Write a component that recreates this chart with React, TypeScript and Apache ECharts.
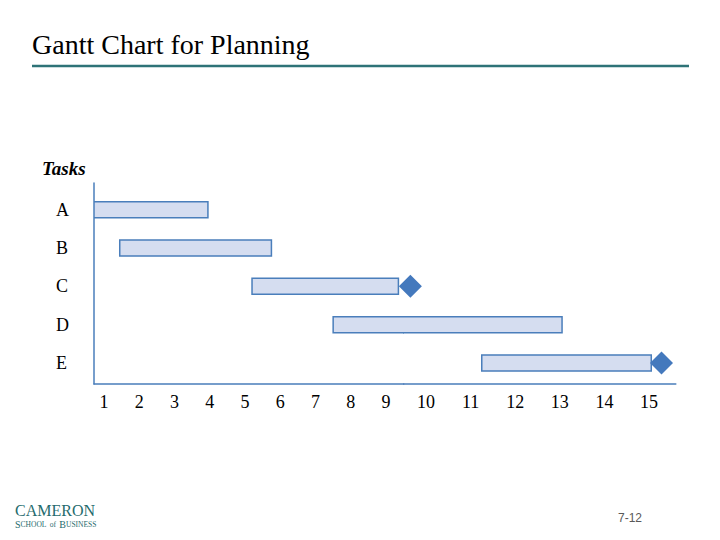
import React, { useEffect, useRef } from "react";
import * as echarts from "echarts";

const tasks = ["A", "B", "C", "D", "E"];
const taskStart = [0.72, 1.45, 5.2, 7.5, 11.25];
const taskEnd = [3.95, 5.75, 9.35, 13.05, 15.05];
const milestoneTask = [2, 4];
const milestoneTime = [9.65, 15.28];
// the original slide spaces weeks 1-9 tighter than weeks 10-15
const ticksLeft = [1, 2, 3, 4, 5, 6, 7, 8, 9];
const ticksRight = [10, 11, 12, 13, 14, 15];
const xMin = 0.72;
const xSplit = 9.5;
const xMax = 15.6;

const BLUE = "#4a7ebb";
const FILL = "#d5ddf0";
const TEAL = "#2e7377";
const SERIF = "Liberation Serif";

export default function App() {
  const ref = useRef<HTMLDivElement>(null);
  useEffect(() => {
    if (!ref.current) return;
    const chart = echarts.init(ref.current, null, { renderer: "svg" });
    const barData = tasks.map((_, i) => [taskStart[i], taskEnd[i], i]);
    const msData = milestoneTask.map((t, i) => [milestoneTime[i], t]);

    const renderBar = (_params: any, api: any) => {
      const s = api.coord([api.value(0), api.value(2)]);
      const e = api.coord([api.value(1), api.value(2)]);
      const h = 16;
      return {
        type: "rect",
        shape: { x: s[0], y: s[1] - h / 2, width: e[0] - s[0], height: h },
        style: { fill: FILL, stroke: BLUE, lineWidth: 1.5 },
      };
    };

    const xAxisBase = (min: number, max: number, ticks: number[]) => ({
      type: "value",
      min,
      max,
      axisLine: { show: true, onZero: false, lineStyle: { color: BLUE, width: 1.5 } },
      axisTick: { show: false },
      splitLine: { show: false },
      axisLabel: {
        customValues: ticks,
        margin: 9,
        color: "#000",
        fontFamily: SERIF,
        fontSize: 18,
        formatter: (v: number) => String(Math.round(v)),
      },
    });

    const yAxisBase = (show: boolean) => ({
      type: "value",
      inverse: true,
      min: -0.7,
      max: 4.55,
      show,
      axisLine: { show: true, onZero: false, lineStyle: { color: BLUE, width: 1.5 } },
      axisTick: { show: false },
      splitLine: { show: false },
      axisLabel: {
        customValues: [0, 1, 2, 3, 4],
        margin: 38,
        align: "left",
        color: "#000",
        fontFamily: SERIF,
        fontSize: 18,
        formatter: (v: number) => tasks[Math.round(v)] ?? "",
      },
    });

    chart.setOption({
      animation: false,
      backgroundColor: "#ffffff",
      grid: [
        { left: 94, width: 309.7, top: 183, bottom: 156 },
        { left: 403.7, right: 44.2, top: 183, bottom: 156 },
      ],
      xAxis: [
        { ...xAxisBase(xMin, xSplit, ticksLeft), gridIndex: 0 },
        { ...xAxisBase(xSplit, xMax, ticksRight), gridIndex: 1 },
      ],
      yAxis: [
        { ...yAxisBase(true), gridIndex: 0 },
        { ...yAxisBase(false), gridIndex: 1 },
      ],
      series: [
        {
          type: "custom",
          xAxisIndex: 0,
          yAxisIndex: 0,
          clip: true,
          data: barData,
          encode: { x: [0, 1], y: 2 },
          renderItem: renderBar,
        },
        {
          type: "custom",
          xAxisIndex: 1,
          yAxisIndex: 1,
          clip: true,
          data: barData,
          encode: { x: [0, 1], y: 2 },
          renderItem: renderBar,
        },
        {
          type: "scatter",
          xAxisIndex: 1,
          yAxisIndex: 1,
          clip: false,
          data: msData,
          symbol: "diamond",
          symbolSize: [23, 23],
          itemStyle: { color: "#4479bd", opacity: 1 },
          z: 3,
        },
      ],
      graphic: [
        {
          type: "text",
          left: 32,
          top: 30,
          style: {
            text: "Gantt Chart for Planning",
            fontFamily: SERIF,
            fontSize: 28,
            fill: "#000",
          },
        },
        {
          type: "line",
          shape: { x1: 32, y1: 66, x2: 689, y2: 66 },
          style: { stroke: TEAL, lineWidth: 2.5 },
        },
        {
          type: "text",
          left: 42,
          top: 159,
          style: {
            text: "Tasks",
            fontFamily: SERIF,
            fontSize: 19,
            fontWeight: "bold",
            fontStyle: "italic",
            fill: "#000",
          },
        },
        {
          type: "text",
          left: 15,
          top: 502,
          style: { text: "CAMERON", fontFamily: SERIF, fontSize: 16, fill: "#1f6b6d" },
        },
        {
          type: "text",
          left: 15,
          top: 518,
          style: {
            text: "{a|S}{b|CHOOL} {b|of} {a|B}{b|USINESS}",
            fill: "#1f6b6d",
            rich: {
              a: { fontFamily: SERIF, fontSize: 10, fill: "#1f6b6d" },
              b: { fontFamily: SERIF, fontSize: 7.5, fill: "#1f6b6d" },
            },
          },
        },
        {
          type: "text",
          left: 618,
          top: 512,
          style: { text: "7-12", fontFamily: "Liberation Sans", fontSize: 12, fill: "#595959" },
        },
      ],
    });
    return () => chart.dispose();
  }, []);
  return (
    <div
      ref={ref}
      style={{ position: "absolute", left: 0, top: 0, width: 720, height: 540 }}
    />
  );
}
